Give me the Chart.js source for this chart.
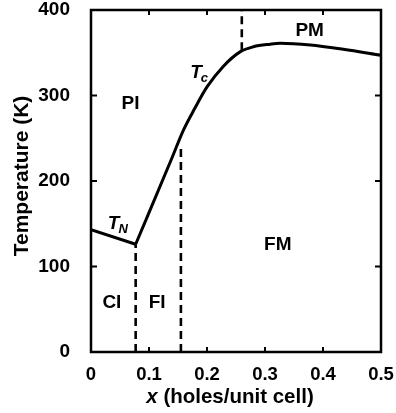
<!DOCTYPE html>
<html>
<head>
<meta charset="utf-8">
<script src="https://cdn.jsdelivr.net/npm/chart.js@4/dist/chart.umd.min.js"></script>
<style>
  html, body { margin: 0; padding: 0; background: #fff; }
  canvas { display: block; }
</style>
</head>
<body>
<canvas id="myChart" width="396" height="413"></canvas>
<script>
// Neel line T_N
const tnX = [0, 0.077];
const tnT = [143, 126];

// Curie line T_c
const tcX = [0.077, 0.139, 0.159, 0.179, 0.2, 0.228, 0.257, 0.28, 0.309, 0.326, 0.378, 0.435, 0.5];
const tcT = [126, 226, 259, 285, 310, 334, 351, 357, 360, 361, 359, 354, 347];

// dashed phase boundaries: [x, Tlow, Thigh]
const bound1 = [0.077, 0, 126];
const bound2 = [0.155, 0, 240];
const bound3 = [0.26, 353, 400];

const xTicks = [0, 0.1, 0.2, 0.3, 0.4, 0.5];
const yTicks = [0, 100, 200, 300, 400];

// region labels [text, x, T]
const regions = [
  ["PI", 0.068, 290],
  ["CI", 0.036, 57],
  ["FI", 0.114, 57],
  ["FM", 0.322, 125],
  ["PM", 0.377, 376]
];
const tnLabel = [0.029, 150];
const tcLabel = [0.171, 327];

const FONT = '"Liberation Sans", Arial, Helvetica, sans-serif';

function pts(xs, ys) {
  return xs.map((x, i) => ({ x: x, y: ys[i] }));
}
function vline(b) {
  return [{ x: b[0], y: b[1] }, { x: b[0], y: b[2] }];
}

const solid = { showLine: true, borderColor: "#000", borderWidth: 3, pointRadius: 0, fill: false };
const dashed = { showLine: true, borderColor: "#000", borderWidth: 2.6, borderDash: [8, 5], pointRadius: 0, fill: false };

const framePlugin = {
  id: "frame",
  afterDraw(chart) {
    const ctx = chart.ctx;
    const a = chart.chartArea;
    const xs = chart.scales.x, ys = chart.scales.y;
    ctx.save();
    ctx.strokeStyle = "#000";
    ctx.lineWidth = 2.5;
    ctx.strokeRect(a.left, a.top, a.right - a.left, a.bottom - a.top);
    // inward ticks
    ctx.lineWidth = 2;
    ctx.beginPath();
    xTicks.slice(1, -1).forEach(v => {
      const p = xs.getPixelForValue(v);
      ctx.moveTo(p, a.bottom); ctx.lineTo(p, a.bottom - 5);
      ctx.moveTo(p, a.top); ctx.lineTo(p, a.top + 5);
    });
    yTicks.slice(1, -1).forEach(v => {
      const p = ys.getPixelForValue(v);
      ctx.moveTo(a.left, p); ctx.lineTo(a.left + 6, p);
      ctx.moveTo(a.right, p); ctx.lineTo(a.right - 6, p);
    });
    ctx.stroke();

    ctx.fillStyle = "#000";
    ctx.textBaseline = "middle";
    ctx.textAlign = "center";
    ctx.font = "bold 19px " + FONT;
    regions.forEach(r => {
      ctx.fillText(r[0], xs.getPixelForValue(r[1]), ys.getPixelForValue(r[2]));
    });

    // T_N and T_c
    function tLabel(pos, sub) {
      let px = xs.getPixelForValue(pos[0]);
      const py = ys.getPixelForValue(pos[1]);
      ctx.textAlign = "left";
      ctx.font = "italic bold 19px " + FONT;
      ctx.fillText("T", px, py);
      px += ctx.measureText("T").width - 1;
      ctx.font = "italic bold 13px " + FONT;
      ctx.fillText(sub, px, py + 6);
    }
    tLabel(tnLabel, "N");
    tLabel(tcLabel, "c");

    // axis titles
    const t1 = "x", t2 = " (holes/unit cell)";
    ctx.font = "italic bold 20.5px " + FONT;
    const w1 = ctx.measureText(t1).width;
    ctx.font = "bold 20.5px " + FONT;
    const w2 = ctx.measureText(t2).width;
    const cx = (a.left + a.right) / 2 - 6;
    let sx = cx - (w1 + w2) / 2;
    ctx.textAlign = "left";
    ctx.font = "italic bold 20.5px " + FONT;
    ctx.fillText(t1, sx, a.bottom + 45);
    ctx.font = "bold 20.5px " + FONT;
    ctx.fillText(t2, sx + w1, a.bottom + 45);

    ctx.translate(22, (a.top + a.bottom) / 2 - 5);
    ctx.rotate(-Math.PI / 2);
    ctx.textAlign = "center";
    ctx.font = "bold 21px " + FONT;
    ctx.fillText("Temperature (K)", 0, 0);
    ctx.restore();
  }
};

new Chart(document.getElementById("myChart").getContext("2d"), {
  type: "scatter",
  data: {
    datasets: [
      Object.assign({ data: pts(tnX, tnT), tension: 0 }, solid),
      Object.assign({ data: pts(tcX, tcT), cubicInterpolationMode: "monotone" }, solid),
      Object.assign({ data: vline(bound1) }, dashed),
      Object.assign({ data: vline(bound2) }, dashed),
      Object.assign({ data: vline(bound3) }, dashed)
    ]
  },
  options: {
    responsive: false,
    animation: false,
    layout: { padding: { top: 10, right: 15, left: 0, bottom: 0 } },
    plugins: { legend: { display: false }, tooltip: { enabled: false } },
    scales: {
      x: {
        type: "linear",
        min: 0, max: 0.5,
        afterFit(s) { s.height = 61; s.paddingLeft = 0; s.paddingRight = 0; },
        afterBuildTicks(s) { s.ticks = xTicks.map(v => ({ value: v })); },
        grid: { display: false },
        border: { display: false },
        ticks: {
          padding: 4,
          color: "#000",
          maxRotation: 0,
          font: { family: FONT, size: 18.5, weight: "bold" },
          callback: v => (v === 0 ? "0" : v.toFixed(1))
        }
      },
      y: {
        type: "linear",
        min: 0, max: 400,
        afterFit(s) { s.width = 91; s.paddingTop = 0; s.paddingBottom = 0; },
        afterBuildTicks(s) { s.ticks = yTicks.map(v => ({ value: v })); },
        grid: { display: false },
        border: { display: false },
        ticks: {
          padding: 13,
          color: "#000",
          font: { family: FONT, size: 19, weight: "bold" }
        }
      }
    }
  },
  plugins: [framePlugin]
});
</script>
</body>
</html>
